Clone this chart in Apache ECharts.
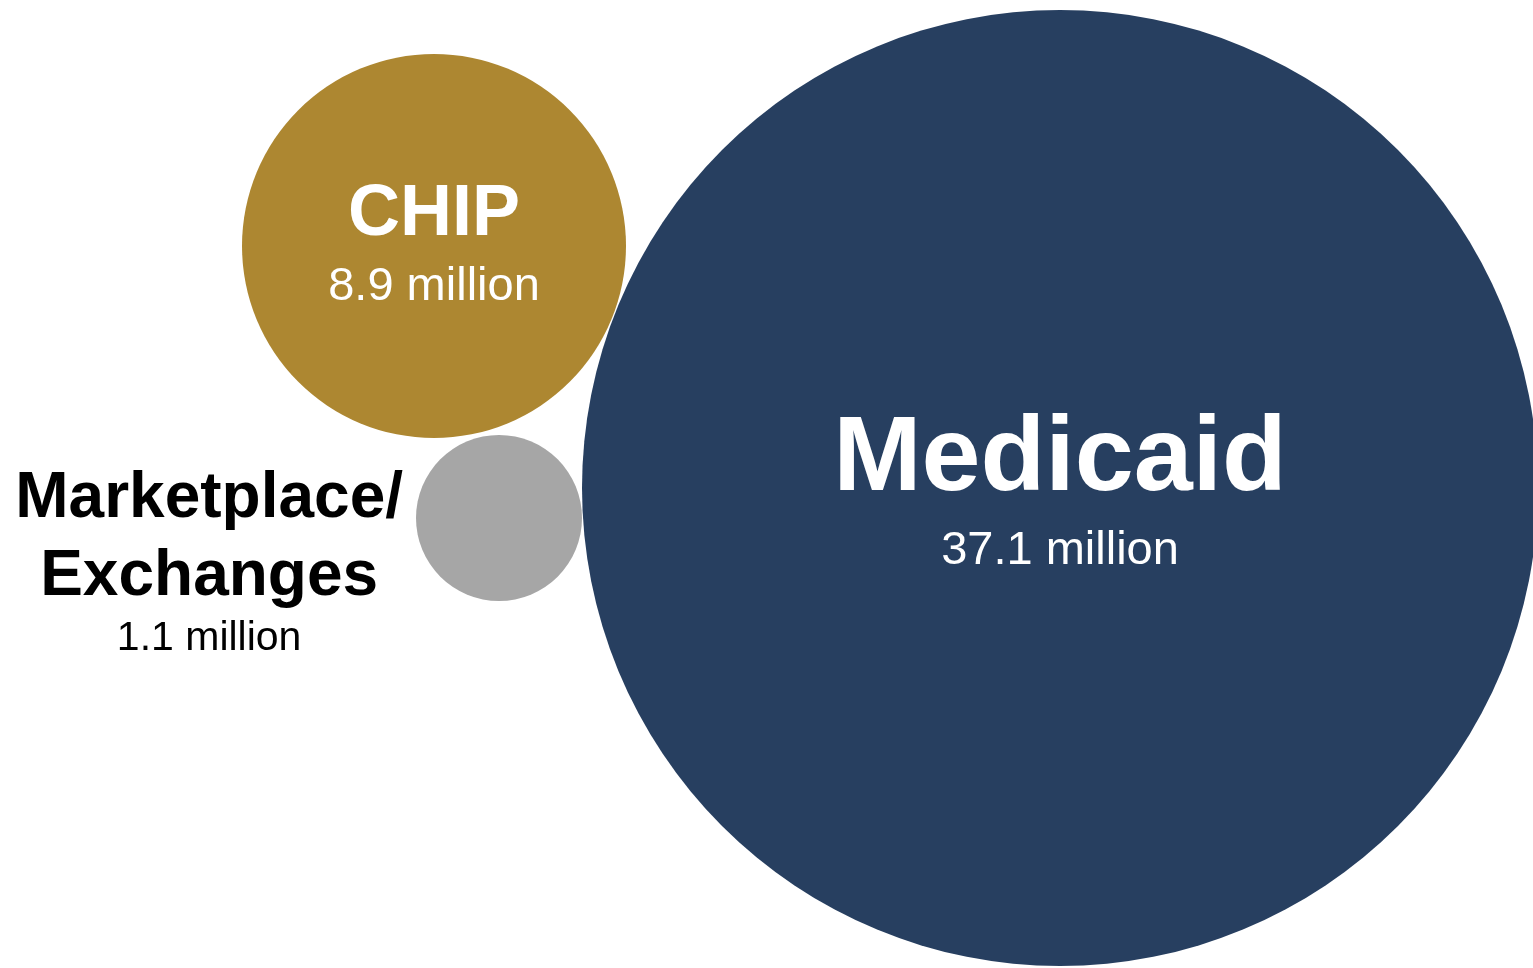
<!DOCTYPE html>
<html>
<head>
<meta charset="utf-8">
<script src="https://cdn.jsdelivr.net/npm/echarts@6/dist/echarts.min.js"></script>
<style>
html,body{margin:0;padding:0;background:#fff;}
#chart{width:1533px;height:968px;}
</style>
</head>
<body>
<div id="chart"></div>
<script>
// ---- data ----
const categories = ['Medicaid', 'CHIP', 'Marketplace/\nExchanges'];
const enrollmentMillions = [37.1, 8.9, 1.1];

// ---- layout & style (not data) ----
const bubbleLayout = {
  'Medicaid': { cx: 1060, cy: 488, r: 478, color: '#273F60' },
  'CHIP': { cx: 434, cy: 246, r: 192, color: '#AD8731' },
  'Marketplace/\nExchanges': { cx: 499, cy: 518, r: 83, color: '#A6A6A6' }
};

const FONT = '"Liberation Sans", Arial, Helvetica, sans-serif';

const labelStyles = {
  'Medicaid': {
    show: true, position: 'inside', offset: [0, 8],
    formatter: p => '{name|' + p.name + '}\n{val|' + p.value[2] + ' million}',
    rich: {
      name: { fontFamily: FONT, fontWeight: 'bold', fontSize: 106, color: '#fff', lineHeight: 110, align: 'center' },
      val: { fontFamily: FONT, fontSize: 47, color: '#fff', lineHeight: 70, align: 'center' }
    }
  },
  'CHIP': {
    show: true, position: 'inside', offset: [0, 1],
    formatter: p => '{name|' + p.name + '}\n{val|' + p.value[2] + ' million}',
    rich: {
      name: { fontFamily: FONT, fontWeight: 'bold', fontSize: 72, color: '#fff', lineHeight: 80, align: 'center' },
      val: { fontFamily: FONT, fontSize: 47, color: '#fff', lineHeight: 64, align: 'center' }
    }
  },
  'Marketplace/\nExchanges': {
    show: true, position: 'left', distance: 13, offset: [0, 43],
    formatter: p => p.name.split('\n').map(s => '{name|' + s + '}').join('\n') + '\n{val|' + p.value[2] + ' million}',
    rich: {
      name: { fontFamily: FONT, fontWeight: 'bold', fontSize: 64, color: '#000', lineHeight: 78, align: 'center' },
      val: { fontFamily: FONT, fontSize: 41, color: '#000', lineHeight: 46, align: 'center' }
    }
  }
};

const seriesData = categories.map((c, i) => {
  const L = bubbleLayout[c];
  return {
    name: c,
    value: [L.cx, L.cy, enrollmentMillions[i]],
    symbolSize: L.r * 2,
    itemStyle: { color: L.color, opacity: 1 },
    label: labelStyles[c]
  };
});

const chart = echarts.init(document.getElementById('chart'));
chart.setOption({
  animation: false,
  grid: { left: 0, right: 0, top: 0, bottom: 0 },
  xAxis: { type: 'value', min: 0, max: 1533, show: false },
  yAxis: { type: 'value', min: 0, max: 968, inverse: true, show: false },
  series: [{
    type: 'scatter',
    clip: false,
    symbol: 'circle',
    itemStyle: { opacity: 1 },
    data: seriesData,
    emphasis: { disabled: true }
  }]
});
</script>
</body>
</html>
